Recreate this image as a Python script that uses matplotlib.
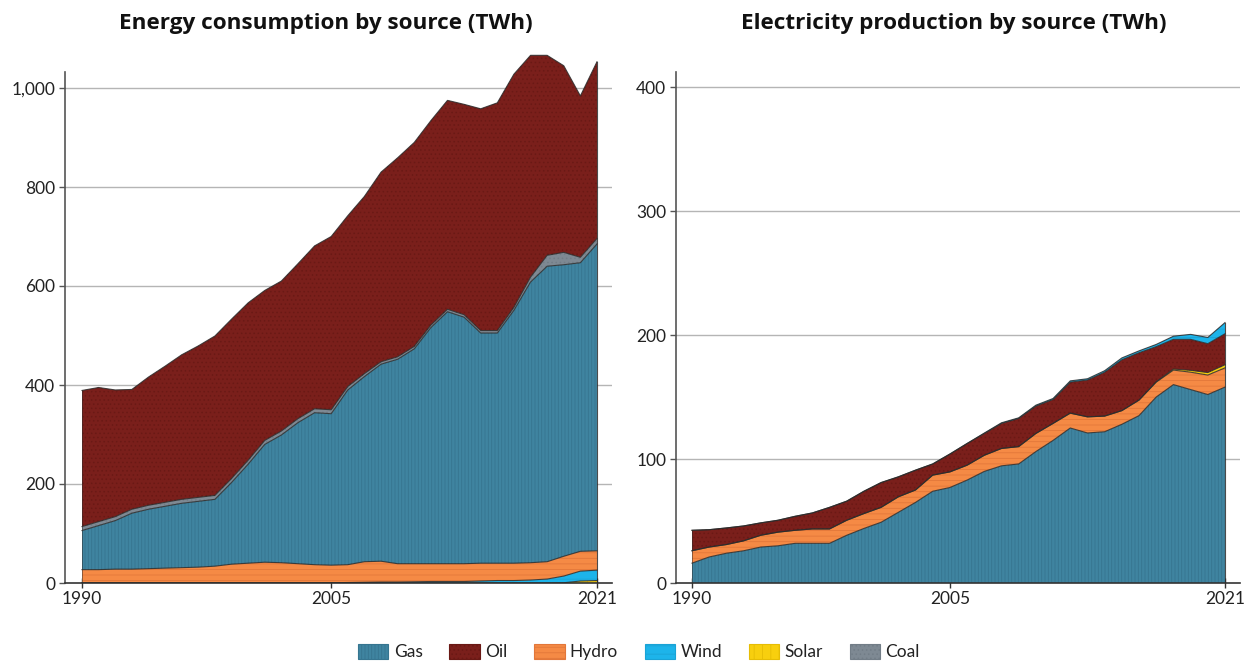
import numpy as np
import matplotlib
matplotlib.use("Agg")
import matplotlib.pyplot as plt
from matplotlib.patches import Patch

plt.rcParams['font.family'] = ['Lato', 'DejaVu Sans']
plt.rcParams['hatch.linewidth'] = 0.6

years = list(range(1990, 2022))

# ---------------- Energy consumption by source (TWh) ----------------
cons_solar = [0]*29 + [0.5, 4, 5]
cons_wind = [0]*15 + [0.5, 1, 1.5, 2, 2, 2.5, 3, 3, 3, 4, 5, 5, 6, 8, 13.5, 20, 21]
cons_hydro = [27, 27, 28, 28, 29, 30, 31, 32, 34, 38, 40, 42, 41, 39, 37, 35.5,
              36, 41.5, 42, 37, 36.5, 36, 36, 36, 36, 35, 35, 35, 35, 40, 40, 39]
cons_gas = [79, 89, 98, 113, 120, 125, 130, 133, 135, 165, 200, 238, 258, 285, 307, 306,
            353, 374, 398, 413, 434, 477, 509, 498, 465, 465, 511, 567, 597, 589, 583, 620]
cons_coal = [8, 8, 8, 8, 8, 8, 8, 8, 8, 8, 8, 8, 8, 8, 8, 8,
             7, 6, 5, 5, 5, 5, 5, 5, 5, 5, 6, 10, 22, 25, 11, 11]
cons_oil = [275, 271, 256, 242, 259, 275, 292, 306, 322, 322, 318, 303, 303, 313, 329, 350,
            345, 358, 383, 402, 412, 413, 422, 425, 448, 460, 471, 448, 404, 377, 326, 357]

# ---------------- Electricity production by source (TWh) ----------------
elec_gas = [16, 21, 24, 26, 29, 30, 32, 32, 32, 38.5, 44, 49, 57, 65, 74, 77,
            83, 90, 94.5, 96, 106, 115, 125, 121, 122, 128, 135, 150, 160, 156, 152, 158]
elec_hydro = [10, 8, 7, 8, 9.5, 11, 10.5, 11.6, 11.6, 12.1, 12, 12, 12.5, 10, 13, 12.6,
              12, 13, 14, 14, 14.6, 13.7, 12, 13, 12.6, 11, 12.5, 12, 11.7, 14, 15.7, 15.5]
elec_solar = [0]*27 + [0.3, 0.8, 1.5, 2, 2.5]
elec_oil = [16.5, 14, 13.4, 12, 10, 9.6, 11.3, 12.9, 17.4, 15.4, 18, 20, 16.1, 16, 9, 14.4,
            17.5, 17.6, 20.2, 22.7, 22.1, 19.3, 25, 29.7, 35.4, 41, 38.2, 28.3, 24, 25, 23.3, 25]
elec_wind = [0]*17 + [0.3, 0.5, 0.5, 0.7, 0.8, 1, 1, 1.2, 1.5, 1.5, 1.8, 2.5, 4, 5, 9]

x_ticks = [1990, 2005, 2021]
legend_names = ["Gas", "Oil", "Hydro", "Wind", "Solar", "Coal"]

STYLE = {
    "Gas":   dict(fc="#3f84a0", hc="#367590", hatch="|||||"),
    "Oil":   dict(fc="#7a1f1b", hc="#6a1915", hatch="...."),
    "Hydro": dict(fc="#f58a45", hc="#e2773a", hatch="---"),
    "Wind":  dict(fc="#1db4ea", hc="#1aa3d6", hatch="--"),
    "Solar": dict(fc="#f8cf0e", hc="#e6bd05", hatch="||"),
    "Coal":  dict(fc="#7e8993", hc="#727d87", hatch="...."),
}
EDGE = "#2b2b2b"


def stacked(ax, layers):
    x = np.array(years, dtype=float)
    base = np.zeros(len(years))
    for name, vals in layers:
        top = base + np.array(vals, dtype=float)
        s = STYLE[name]
        ax.fill_between(x, base, top, facecolor=s["fc"], edgecolor=s["hc"],
                        hatch=s["hatch"], linewidth=0, zorder=2)
        ax.plot(x, top, color=EDGE, lw=0.8, zorder=3, alpha=0.85)
        base = top
    ax.plot([x[-1], x[-1]], [0, base[-1]], color=EDGE, lw=0.8, zorder=3, alpha=0.85)
    ax.plot([x[0], x[0]], [0, base[0]], color=EDGE, lw=0.6, zorder=3, alpha=0.6)


def style_axes(ax, ymax_spine, yticks, ylabels):
    for sp in ("top", "right"):
        ax.spines[sp].set_visible(False)
    ax.spines["left"].set_bounds(0, ymax_spine)
    ax.spines["left"].set_color("#555555")
    ax.spines["bottom"].set_color("#333333")
    ax.spines["left"].set_linewidth(1.2)
    ax.spines["bottom"].set_linewidth(1.2)
    ax.set_yticks(yticks)
    ax.set_yticklabels(ylabels)
    ax.set_xticks(x_ticks)
    ax.set_xticklabels([str(v) for v in x_ticks])
    ax.tick_params(axis="y", length=4, width=1, color="#555555", labelsize=12.5,
                   labelcolor="#222222", pad=3)
    ax.tick_params(axis="x", length=7, width=1, color="#333333", labelsize=12.5,
                   labelcolor="#222222", pad=2, direction="inout")
    for yv in yticks[1:]:
        ax.axhline(yv, color="#b5b5b5", lw=1.0, zorder=1)


fig = plt.figure(figsize=(12.46, 6.62), dpi=100)
TITLE_FONT = dict(family=["Open Sans", "DejaVu Sans"], fontsize=16.2, fontweight="bold",
                  color="#111111", ha="center", va="center")

# left panel
axL = fig.add_axes([65/1246, 79/662, (612-65)/1246, (583-40)/662])
stacked(axL, [("Solar", cons_solar), ("Wind", cons_wind), ("Hydro", cons_hydro),
              ("Gas", cons_gas), ("Coal", cons_coal), ("Oil", cons_oil)])
axL.set_xlim(1990 - 17/16.6, 2021 + 15/16.6)
axL.set_ylim(0, (583-40)/0.495)
style_axes(axL, 1032, [0, 200, 400, 600, 800, 1000],
           ["0", "200", "400", "600", "800", "1,000"])
fig.text(326/1246, 1 - 23/662, "Energy consumption by source (TWh)", **TITLE_FONT)

# right panel
axR = fig.add_axes([676/1246, 79/662, (1240-676)/1246, (583-40)/662])
stacked(axR, [("Gas", elec_gas), ("Hydro", elec_hydro), ("Solar", elec_solar),
              ("Oil", elec_oil), ("Wind", elec_wind)])
axR.set_xlim(1990 - 16/17.2, 2021 + 15/17.2)
axR.set_ylim(0, (583-40)/1.24)
style_axes(axR, 412, [0, 100, 200, 300, 400], ["0", "100", "200", "300", "400"])
fig.text(954/1246, 1 - 23/662, "Electricity production by source (TWh)", **TITLE_FONT)

handles = [Patch(facecolor=STYLE[n]["fc"], edgecolor=STYLE[n]["hc"], hatch=STYLE[n]["hatch"],
                 linewidth=0.8, label=n) for n in legend_names]
leg = fig.legend(handles=handles, loc="center", bbox_to_anchor=(639/1246, 1 - 652/662),
                 ncol=6, frameon=False, fontsize=12.5, handlelength=1.75, handleheight=1.0,
                 columnspacing=1.55, handletextpad=0.3)
for t in leg.get_texts():
    t.set_color("#222222")

fig.savefig("out.png", dpi=100)
